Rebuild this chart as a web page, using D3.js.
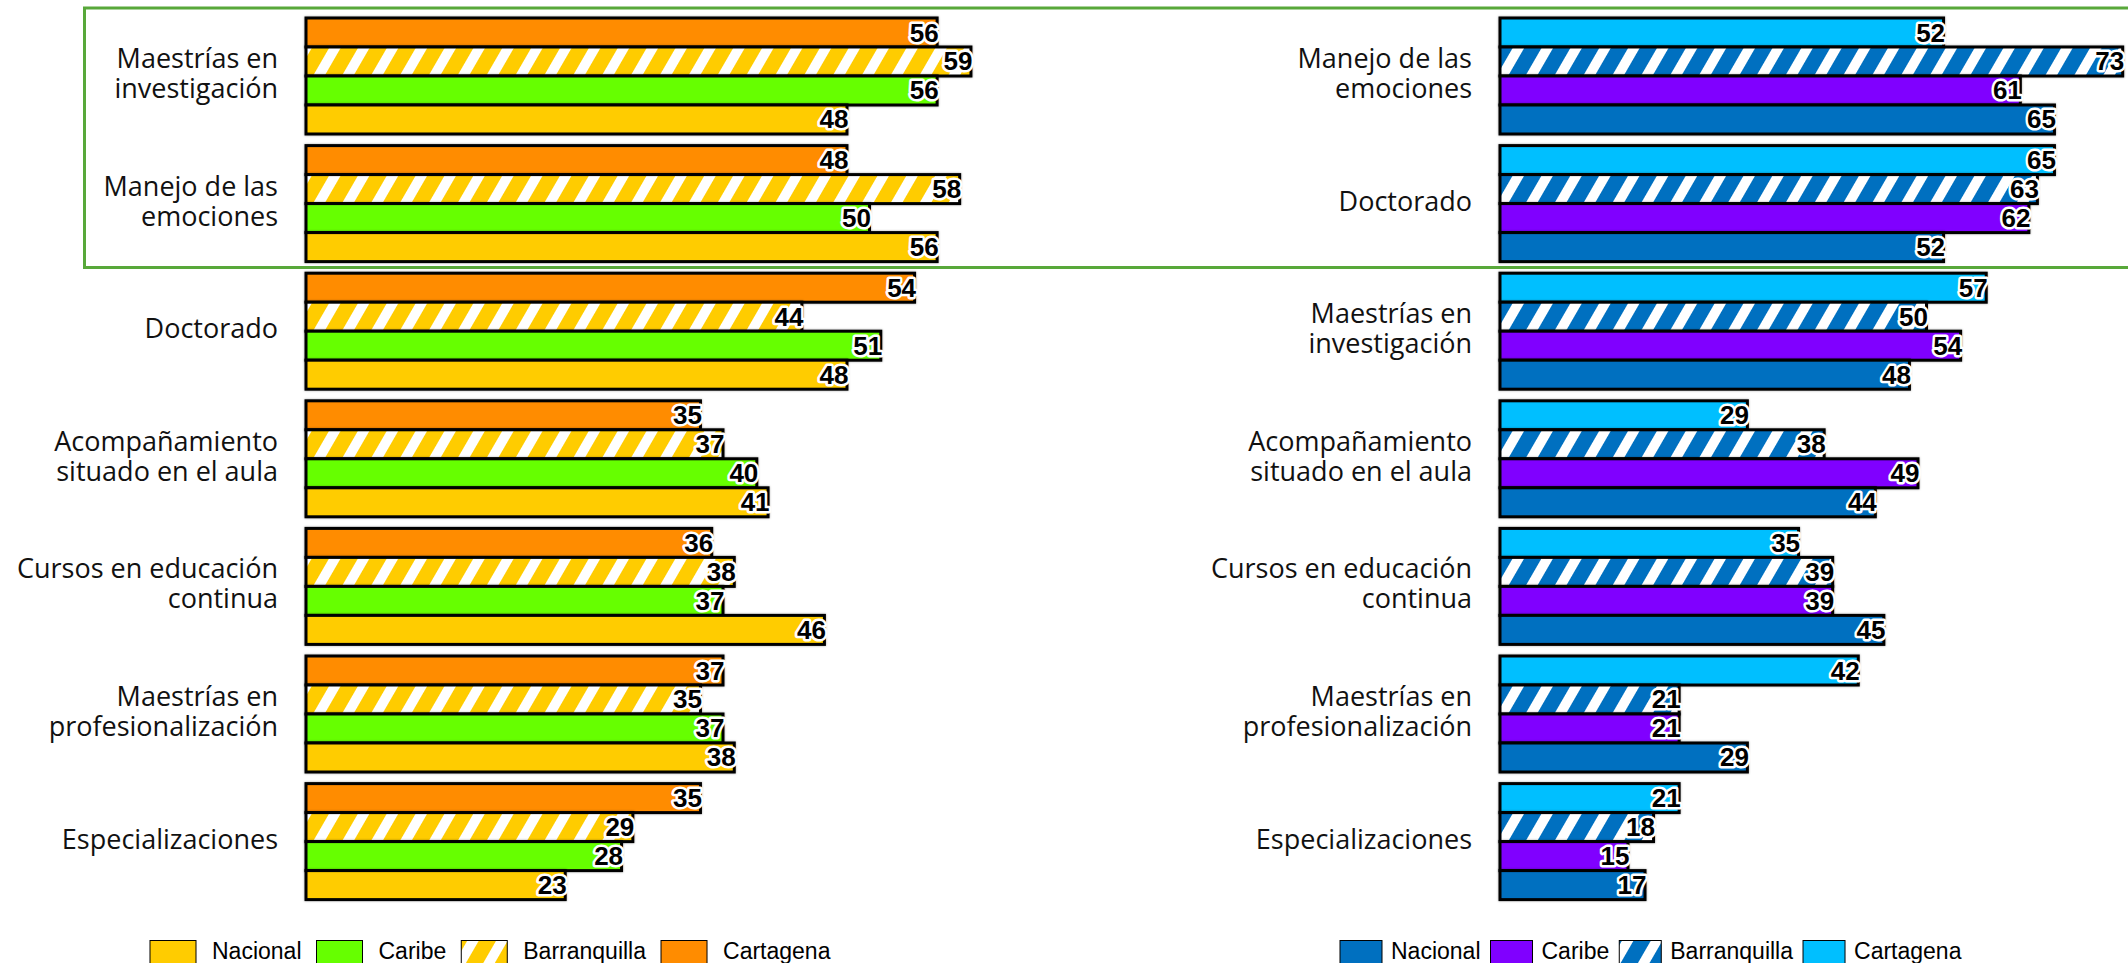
<!DOCTYPE html>
<html>
<head>
<meta charset="utf-8">
<script src="https://cdn.jsdelivr.net/npm/d3@7"></script>
<style>
html,body{margin:0;padding:0;background:#fff;}
svg{display:block;}
</style>
</head>
<body>
<svg id="chart" width="2128" height="963"></svg>
<script>
// ---------- DATA ----------
const seriesOrder = ["Cartagena", "Barranquilla", "Caribe", "Nacional"]; // top to bottom within a group
const legendOrder = ["Nacional", "Caribe", "Barranquilla", "Cartagena"];

const leftCategories = [
  ["Maestrías en", "investigación"],
  ["Manejo de las", "emociones"],
  ["Doctorado"],
  ["Acompañamiento", "situado en el aula"],
  ["Cursos en educación", "continua"],
  ["Maestrías en", "profesionalización"],
  ["Especializaciones"]
];
const leftCartagena    = [56, 48, 54, 35, 36, 37, 35];
const leftBarranquilla = [59, 58, 44, 37, 38, 35, 29];
const leftCaribe       = [56, 50, 51, 40, 37, 37, 28];
const leftNacional     = [48, 56, 48, 41, 46, 38, 23];

const rightCategories = [
  ["Manejo de las", "emociones"],
  ["Doctorado"],
  ["Maestrías en", "investigación"],
  ["Acompañamiento", "situado en el aula"],
  ["Cursos en educación", "continua"],
  ["Maestrías en", "profesionalización"],
  ["Especializaciones"]
];
const rightCartagena    = [52, 65, 57, 29, 35, 42, 21];
const rightBarranquilla = [73, 63, 50, 38, 39, 21, 18];
const rightCaribe       = [61, 62, 54, 49, 39, 21, 15];
const rightNacional     = [65, 52, 48, 44, 45, 29, 17];

const leftColors  = {Nacional: "#FFCC00", Caribe: "#66FF00", Barranquilla: "#FFCC00", Cartagena: "#FF8C00"};
const rightColors = {Nacional: "#0070C0", Caribe: "#8000FF", Barranquilla: "#0070C0", Cartagena: "#00BFFF"};

// ---------- SETUP ----------
const svg = d3.select("#chart");
const defs = svg.append("defs");

function stripePattern(id, color) {
  const p = defs.append("pattern")
    .attr("id", id)
    .attr("patternUnits", "userSpaceOnUse")
    .attr("width", 25).attr("height", 25)
    .attr("patternTransform", "rotate(30)");
  p.append("rect").attr("width", 25).attr("height", 25).attr("fill", color);
  p.append("rect").attr("x", 0).attr("width", 10).attr("height", 25).attr("fill", "#fff");
}
stripePattern("stripeGold", leftColors.Barranquilla);
stripePattern("stripeBlue", rightColors.Barranquilla);

const shadow = defs.append("filter").attr("id", "shadow")
  .attr("x", "-5%").attr("y", "-20%").attr("width", "110%").attr("height", "140%");
shadow.append("feDropShadow").attr("dx", 0).attr("dy", 0).attr("stdDeviation", 1.2)
  .attr("flood-color", "#000").attr("flood-opacity", 0.35);

const labelFont = "'Open Sans', 'Noto Sans', sans-serif";
const valueFont = "'Liberation Sans', Arial, sans-serif";

// green highlight frame
svg.append("rect")
  .attr("x", 84.5).attr("y", 8)
  .attr("width", 2200).attr("height", 259.5)
  .attr("fill", "none").attr("stroke", "#58A83A").attr("stroke-width", 3);

function panel(opts) {
  const {categories, values, colors, stripeId, x0, pxPerUnit, legendX, swatchW, swatchGap, itemGap} = opts;
  const n = categories.length;
  const y = d3.scaleBand()
    .domain(d3.range(n))
    .range([18, 899.6])
    .paddingInner(0.091)
    .paddingOuter(0);
  const ys = d3.scaleBand().domain(seriesOrder).range([0, y.bandwidth()]);
  const x = d3.scaleLinear().domain([0, 100]).range([x0, x0 + 100 * pxPerUnit]);

  const g = svg.append("g");
  const groups = g.selectAll("g.grp").data(d3.range(n)).join("g")
    .attr("class", "grp")
    .attr("transform", i => `translate(0,${y(i)})`);

  const rows = i => seriesOrder.map(s => ({s, v: values[s][i]}));

  groups.selectAll("rect.bar").data(i => rows(i)).join("rect")
    .attr("class", "bar")
    .attr("x", x(0))
    .attr("y", d => ys(d.s))
    .attr("width", d => x(d.v) - x(0))
    .attr("height", ys.bandwidth())
    .attr("fill", d => d.s === "Barranquilla" ? `url(#${stripeId})` : colors[d.s])
    .attr("stroke", "#000").attr("stroke-width", 3)
    .attr("filter", "url(#shadow)");

  groups.selectAll("text.val").data(i => rows(i)).join("text")
    .attr("class", "val")
    .attr("x", d => x(d.v) + 1.5)
    .attr("y", d => ys(d.s) + ys.bandwidth() / 2 + 9)
    .attr("text-anchor", "end")
    .attr("font-family", valueFont)
    .attr("font-weight", "bold")
    .attr("font-size", 26)
    .attr("fill", "#000")
    .attr("stroke", "#fff").attr("stroke-width", 5)
    .attr("stroke-linejoin", "round")
    .attr("paint-order", "stroke")
    .text(d => d.v);

  // category labels
  groups.each(function(i) {
    const lines = categories[i];
    const lh = 30;
    const cy = y.bandwidth() / 2 - 3;
    const t = d3.select(this).append("text")
      .attr("text-anchor", "end")
      .attr("font-family", labelFont)
      .attr("font-size", 27)
      .attr("fill", "#111");
    lines.forEach((ln, k) => {
      t.append("tspan")
        .attr("x", x0 - 28)
        .attr("y", cy + (k - (lines.length - 1) / 2) * lh + 10)
        .text(ln);
    });
  });

  // legend
  const lg = svg.append("g");
  let cx = legendX;
  legendOrder.forEach(s => {
    lg.append("rect")
      .attr("x", cx).attr("y", 940.5)
      .attr("width", swatchW).attr("height", 23)
      .attr("fill", s === "Barranquilla" ? `url(#${stripeId})` : colors[s])
      .attr("stroke", "#000").attr("stroke-width", 1);
    const t = lg.append("text")
      .attr("x", cx + swatchW + swatchGap).attr("y", 959)
      .attr("font-family", valueFont)
      .attr("font-size", 23)
      .attr("fill", "#000")
      .text(s);
    cx = cx + swatchW + swatchGap + t.node().getComputedTextLength() + itemGap;
  });
}

panel({
  categories: leftCategories,
  values: {Cartagena: leftCartagena, Barranquilla: leftBarranquilla, Caribe: leftCaribe, Nacional: leftNacional},
  colors: leftColors, stripeId: "stripeGold",
  x0: 306, pxPerUnit: 11.27,
  legendX: 150, swatchW: 46, swatchGap: 16, itemGap: 15
});
panel({
  categories: rightCategories,
  values: {Cartagena: rightCartagena, Barranquilla: rightBarranquilla, Caribe: rightCaribe, Nacional: rightNacional},
  colors: rightColors, stripeId: "stripeBlue",
  x0: 1500, pxPerUnit: 8.53,
  legendX: 1340, swatchW: 42, swatchGap: 9, itemGap: 10
});
</script>
</body>
</html>
